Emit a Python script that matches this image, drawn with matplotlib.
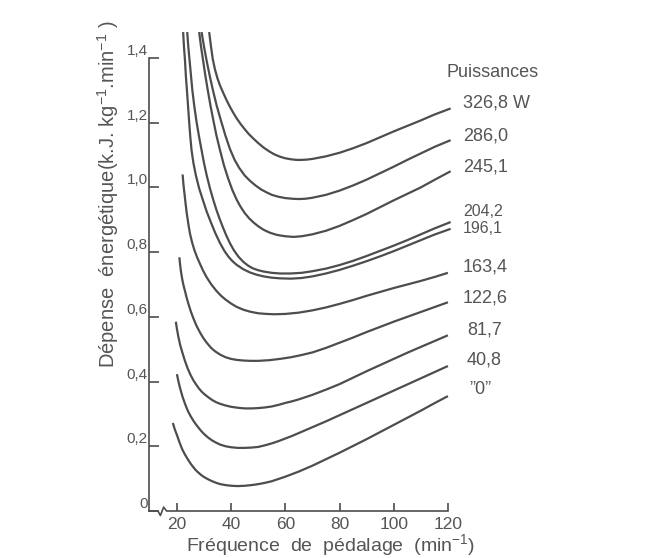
import matplotlib
matplotlib.use("Agg")
import matplotlib.pyplot as plt

plt.rcParams['font.family'] = ['Liberation Sans', 'DejaVu Sans']
plt.rcParams['mathtext.fontset'] = 'custom'
plt.rcParams['mathtext.rm'] = 'Liberation Sans'
plt.rcParams['mathtext.it'] = 'Liberation Sans:italic'
plt.rcParams['mathtext.bf'] = 'Liberation Sans:bold'

# ---- data ----
power_labels = ['326,8 W', '286,0', '245,1', '204,2', '196,1', '163,4', '122,6', '81,7', '40,8', '\u201d0\u201d']

x_326 = [31.9, 32.5, 33.2, 34, 35, 36, 37.1, 38.3, 39.5, 40.7, 42, 43.5, 45, 46.5, 48.2, 50, 52, 54.3, 56, 58, 60, 62, 64, 66, 68, 70, 75, 80, 85, 90, 95, 100, 105, 110, 115, 121]
y_326 = [1.48, 1.44, 1.398, 1.366, 1.336, 1.313, 1.292, 1.27, 1.25, 1.232, 1.214, 1.196, 1.18, 1.165, 1.151, 1.137, 1.123, 1.110, 1.102, 1.095, 1.090, 1.087, 1.085, 1.085, 1.086, 1.088, 1.096, 1.107, 1.121, 1.137, 1.155, 1.173, 1.19, 1.207, 1.225, 1.244]

x_286 = [29.1, 30, 31, 32.1, 33.3, 34.7, 36.3, 37.9, 39.6, 41.3, 43, 45, 47, 49, 51, 53, 55, 57.5, 60, 62.5, 65, 67.5, 70, 75, 80, 85, 90, 95, 100, 105, 110, 115, 121]
y_286 = [1.48, 1.435, 1.39, 1.345, 1.30, 1.252, 1.205, 1.16, 1.118, 1.085, 1.06, 1.037, 1.02, 1.006, 0.994, 0.985, 0.977, 0.971, 0.967, 0.965, 0.964, 0.965, 0.968, 0.977, 0.99, 1.006, 1.024, 1.044, 1.064, 1.085, 1.105, 1.125, 1.146]

x_245 = [28.2, 28.9, 29.7, 30.5, 31.4, 32.4, 33.5, 34.6, 35.9, 37.3, 38.8, 40.4, 42, 43.5, 45, 46.6, 48.2, 50, 52, 54.3, 57, 60, 63, 66, 70, 75, 80, 85, 90, 95, 100, 105, 110, 115, 121]
y_245 = [1.48, 1.435, 1.39, 1.345, 1.30, 1.252, 1.205, 1.16, 1.115, 1.07, 1.03, 0.993, 0.963, 0.94, 0.921, 0.905, 0.892, 0.88, 0.869, 0.86, 0.853, 0.849, 0.847, 0.849, 0.855, 0.866, 0.881, 0.899, 0.918, 0.939, 0.96, 0.98, 1.0, 1.023, 1.05]

x_204 = [23.8, 24.2, 24.7, 25.2, 25.7, 26.4, 27.2, 28.1, 29.1, 30, 31, 32.2, 33.4, 34.6, 35.8, 37, 38.3, 39.6, 41, 42.7, 44.5, 46.3, 48, 50, 52, 55, 58, 62, 66, 70, 75, 80, 85, 90, 95, 100, 105, 110, 115, 121]
y_204 = [1.48, 1.435, 1.39, 1.345, 1.30, 1.252, 1.205, 1.16, 1.115, 1.075, 1.037, 0.997, 0.962, 0.93, 0.902, 0.876, 0.85, 0.827, 0.806, 0.786, 0.77, 0.758, 0.75, 0.744, 0.74, 0.736, 0.734, 0.734, 0.736, 0.741, 0.749, 0.76, 0.773, 0.788, 0.804, 0.82, 0.837, 0.855, 0.873, 0.893]

x_196 = [22.3, 22.6, 23, 23.3, 23.7, 24.1, 24.5, 24.9, 25.4, 26.1, 27, 28.2, 29.7, 31, 32.5, 34.1, 35.9, 37.5, 39, 40.5, 42, 44.5, 47, 49.5, 52, 55, 58, 62, 66, 70, 75, 80, 85, 90, 95, 100, 105, 110, 115, 121]
y_196 = [1.48, 1.435, 1.39, 1.345, 1.30, 1.252, 1.205, 1.16, 1.115, 1.075, 1.037, 0.997, 0.958, 0.925, 0.893, 0.86, 0.828, 0.804, 0.786, 0.772, 0.761, 0.747, 0.737, 0.73, 0.725, 0.721, 0.719, 0.718, 0.72, 0.725, 0.734, 0.745, 0.758, 0.772, 0.787, 0.803, 0.82, 0.837, 0.854, 0.872]

x_163 = [22.1, 22.4, 22.8, 23.2, 23.6, 24.2, 24.8, 25.6, 26.5, 27.5, 28.5, 29.7, 31, 32.7, 34.6, 36.3, 38, 40, 42, 44.5, 47, 50, 53, 56, 60, 65, 70, 75, 80, 85, 90, 95, 100, 105, 110, 115, 120]
y_163 = [1.04, 1.01, 0.98, 0.95, 0.922, 0.888, 0.858, 0.83, 0.805, 0.783, 0.764, 0.742, 0.722, 0.7, 0.68, 0.665, 0.653, 0.641, 0.631, 0.622, 0.616, 0.611, 0.609, 0.608, 0.609, 0.613, 0.62, 0.629, 0.64, 0.652, 0.665, 0.677, 0.689, 0.7, 0.711, 0.723, 0.736]

x_122 = [20.9, 21.2, 21.5, 21.8, 22.2, 22.6, 23, 23.5, 24, 25, 26, 27.2, 28.5, 29.7, 31, 32.5, 34, 36, 38, 40, 42, 44.5, 47, 50, 54, 58, 62, 66, 70, 75, 80, 85, 90, 95, 100, 105, 110, 115, 120]
y_122 = [0.784, 0.76, 0.74, 0.724, 0.706, 0.692, 0.679, 0.662, 0.647, 0.62, 0.597, 0.573, 0.552, 0.535, 0.52, 0.505, 0.494, 0.483, 0.475, 0.47, 0.467, 0.465, 0.464, 0.464, 0.466, 0.47, 0.475, 0.482, 0.49, 0.504, 0.52, 0.536, 0.553, 0.569, 0.585, 0.6, 0.615, 0.63, 0.645]

x_81 = [19.6, 20, 20.5, 21.2, 22, 23, 24, 25, 26, 27, 28, 29, 30, 31.5, 33, 34.5, 36, 38, 40, 42.5, 45, 47.5, 50, 52.5, 55, 57.5, 60, 62.5, 65, 67.5, 70, 75, 80, 85, 90, 95, 100, 105, 110, 115, 120]
y_81 = [0.585, 0.563, 0.54, 0.513, 0.49, 0.463, 0.44, 0.421, 0.405, 0.392, 0.38, 0.37, 0.362, 0.352, 0.343, 0.336, 0.331, 0.326, 0.322, 0.319, 0.317, 0.317, 0.318, 0.32, 0.323, 0.328, 0.334, 0.339, 0.345, 0.352, 0.359, 0.375, 0.392, 0.412, 0.432, 0.451, 0.47, 0.489, 0.507, 0.525, 0.543]

x_40 = [20, 20.5, 21, 21.5, 22, 23, 24, 25, 26, 27, 28, 29, 30, 31.5, 33, 34.5, 36, 38, 40, 42.5, 45, 47.5, 50, 52.5, 55, 57.5, 60, 62.5, 65, 67.5, 70, 75, 80, 85, 90, 95, 100, 105, 110, 115, 120]
y_40 = [0.423, 0.403, 0.385, 0.37, 0.355, 0.331, 0.31, 0.294, 0.28, 0.268, 0.257, 0.247, 0.238, 0.227, 0.218, 0.211, 0.205, 0.2, 0.197, 0.195, 0.195, 0.196, 0.198, 0.203, 0.209, 0.216, 0.224, 0.232, 0.241, 0.25, 0.259, 0.277, 0.296, 0.315, 0.334, 0.353, 0.372, 0.391, 0.41, 0.429, 0.448]

x_0 = [18.5, 19, 19.5, 20, 21, 22, 23, 24, 25, 26, 27, 28, 29, 30, 31.5, 33, 34.5, 36, 38, 40, 42.5, 45, 47.5, 50, 52.5, 55, 57.5, 60, 62.5, 65, 67.5, 70, 75, 80, 85, 90, 95, 100, 105, 110, 115, 120]
y_0 = [0.272, 0.258, 0.246, 0.235, 0.211, 0.19, 0.174, 0.16, 0.147, 0.136, 0.126, 0.118, 0.111, 0.105, 0.098, 0.092, 0.087, 0.083, 0.08, 0.078, 0.077, 0.078, 0.08, 0.083, 0.087, 0.092, 0.099, 0.106, 0.114, 0.122, 0.131, 0.14, 0.16, 0.18, 0.201, 0.222, 0.244, 0.266, 0.288, 0.31, 0.333, 0.355]

label_x = [125.5, 125.5, 125.5, 125.5, 125.5, 125.5, 125.3, 127.0, 127.0, 128.0]
label_y = [1.261, 1.159, 1.063, 0.924, 0.872, 0.754, 0.658, 0.559, 0.467, 0.374]
label_size = [13, 13, 13, 11.5, 11.5, 13, 13, 13, 13, 13]

x_ticks = [20, 40, 60, 80, 100, 120]
y_ticks = [0, 0.2, 0.4, 0.6, 0.8, 1.0, 1.2, 1.4]
y_tick_labels = ['0', '0,2', '0,4', '0,6', '0,8', '1,0', '1,2', '1,4']

curves = [(x_326, y_326), (x_286, y_286), (x_245, y_245), (x_204, y_204), (x_196, y_196),
          (x_163, y_163), (x_122, y_122), (x_81, y_81), (x_40, y_40), (x_0, y_0)]

# ---- figure ----
W, H = 662, 558
fig = plt.figure(figsize=(W / 100, H / 100), dpi=100)
xmin, xmax = 9.7, 130
ymin, ymax = 0, 1.5
px_x = 2.71
px_y = 323.6
left = 149 / W
bottom = (H - 511) / H
ax = fig.add_axes([left, bottom, (xmax - xmin) * px_x / W, (ymax - ymin) * px_y / H])
ax.set_xlim(xmin, xmax)
ax.set_ylim(ymin, ymax)

line_c = '#4d4d4d'
text_c = '#555555'

for (xs, ys) in curves:
    ax.plot(xs, ys, color=line_c, lw=1.6, solid_capstyle='butt',
            solid_joinstyle='round', clip_on=False)

for lab, lx, ly, fs in zip(power_labels, label_x, label_y, label_size):
    ax.text(lx, ly, lab, color=text_c, fontsize=fs, ha='left', va='center')
ax.text(119.6, 1.354, 'Puissances', color=text_c, fontsize=13, ha='left', va='center')

# spines
for s in ['top', 'right', 'bottom']:
    ax.spines[s].set_visible(False)
ax.spines['left'].set_bounds(0, 1.4)
ax.spines['left'].set_color(line_c)
ax.spines['left'].set_linewidth(1.2)

# bottom axis with break mark
ax.plot([xmin, 13.0, 13.9, 15.1, 16.2, 120], [0, 0, -0.014, 0.012, 0, 0],
        color=line_c, lw=1.2, clip_on=False)

ax.set_xticks(x_ticks)
ax.set_xticklabels([str(v) for v in x_ticks])
ax.set_yticks(y_ticks)
ax.set_yticklabels(y_tick_labels)
ax.tick_params(axis='x', direction='in', length=6, width=1.2, color=line_c,
               labelcolor=text_c, labelsize=12.5, pad=4)
ax.tick_params(axis='y', direction='in', length=7, width=1.2, color=line_c,
               labelcolor=text_c, labelsize=11, pad=1)
for t in ax.get_yticklabels():
    t.set_va('bottom')

fig.text(108 / W, 1 - 194 / H,
         'Dépense  énergétique(k.J. kg$^{-1}$.min$^{-1}$ )',
         rotation=90, ha='center', va='center', color=text_c, fontsize=14.5)
fig.text(331 / W, 1 - 545 / H, 'Fréquence  de  pédalage  (min$^{-1}$)',
         ha='center', va='center', color=text_c, fontsize=14)

fig.savefig('out.png', dpi=100, facecolor='white')
